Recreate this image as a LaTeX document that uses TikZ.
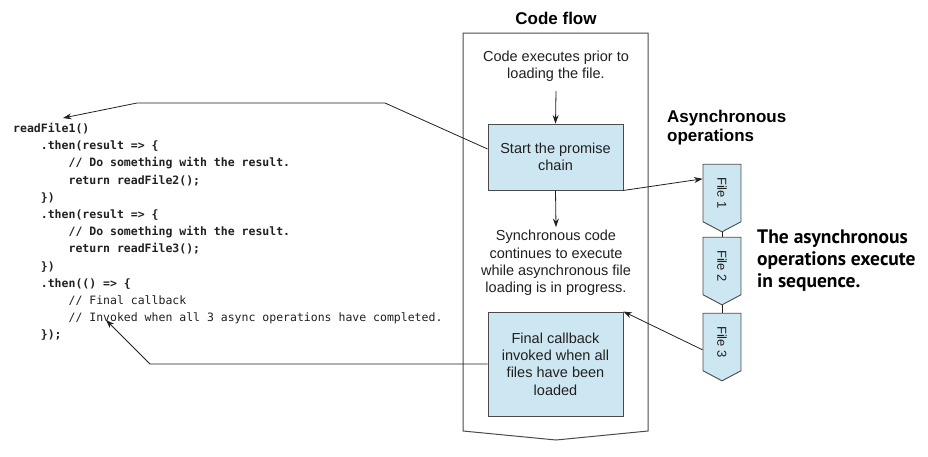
\documentclass[tikz,border=0pt]{standalone}
\usepackage{fontspec}
\setmainfont{Liberation Sans}
\newfontfamily\codefont{DejaVu Sans Mono}
\newfontfamily\calloutfont{PT Sans}
\usetikzlibrary{arrows.meta,shapes.symbols}
\definecolor{boxblue}{HTML}{CCE7F1}
\definecolor{txt}{HTML}{231F20}
\definecolor{frame}{HTML}{4A4A4A}
\newcommand{\ind}[1]{\hphantom{#1}}
\begin{document}
\begin{tikzpicture}[x=1pt,y=-1pt,
  bodytext/.style={font=\fontsize{14.5}{17.3}\selectfont, align=center, text=txt, inner sep=0pt},
  bluebox/.style={draw=frame, fill=boxblue, line width=0.9pt, minimum width=135pt, inner sep=0pt,
    font=\fontsize{14.5}{17.3}\selectfont, align=center, text=txt},
  filebox/.style={shape=signal, signal to=south, signal from=nowhere, draw=frame, fill=boxblue,
    line width=0.9pt, minimum width=38pt, minimum height=60pt, inner sep=0pt,
    signal pointer angle=124, font=\fontsize{13}{15}\selectfont, text=txt},
  conn/.style={line width=0.8pt, draw=txt},
  arr/.style={conn, -{Stealth[length=8.5pt,width=6pt]}},
  heading/.style={font=\fontsize{17}{19}\selectfont\bfseries, text=black, inner sep=0pt},
  codetext/.style={font=\codefont\fontsize{11.5}{17.2}\selectfont, align=left, text=txt, inner sep=0pt, anchor=north west}
]
\useasboundingbox (0,0) rectangle (928,456);

% title and outer frame
\node[heading] (title) at (556,18) {Code flow};
\draw[frame, line width=1pt] (463,33) -- (648,33) -- (648,431) -- (556,440) -- (463,431) -- cycle;

% flow contents
\node[bodytext] (pre) at (556,66.5) {Code executes prior to\\loading the file.};
\node[bluebox, minimum height=66pt] (start) at (555.5,157) {Start the promise\\chain};
\node[bodytext] (sync) at (556,263) {Synchronous code\\continues to execute\\while asynchronous file\\loading is in progress.};
\node[bluebox, minimum height=104pt] (final) at (555.5,364) {Final callback\\invoked when all\\files have been\\loaded};

\draw[arr] ([yshift=-9pt]pre.south) -- (start.north);
\draw[arr] (start.south) -- ([yshift=3pt]sync.north);

% asynchronous operations
\node[heading, anchor=west, align=left] (async) at (667,127.5) {Asynchronous\\operations};
\node[filebox] (f1) at (722,193) {\rotatebox{-90}{File 1}};
\node[filebox] (f2) at (722,266) {\rotatebox{-90}{File 2}};
\node[filebox] (f3) at (722,342) {\rotatebox{-90}{File 3}};
\draw[conn] (f1.south) -- (f2.north);
\draw[conn] (f2.south) -- (f3.north);

\node[anchor=west, align=left, inner sep=0pt, text=black,
  font=\calloutfont\fontsize{19.5}{22}\selectfont\bfseries] (note) at (757,261)
  {The asynchronous\\operations execute\\in sequence.};

% code
\node[codetext] (code) at (13,123) {\textbf{readFile1()}\\
\ind{xxxx}\textbf{.then(result => \{}\\
\ind{xxxxxxxx}\textbf{// Do something with the result.}\\
\ind{xxxxxxxx}\textbf{return readFile2();}\\
\ind{xxxx}\textbf{\})}\\
\ind{xxxx}\textbf{.then(result => \{}\\
\ind{xxxxxxxx}\textbf{// Do something with the result.}\\
\ind{xxxxxxxx}\textbf{return readFile3();}\\
\ind{xxxx}\textbf{\})}\\
\ind{xxxx}\textbf{.then(() => \{}\\
\ind{xxxxxxxx}// Final callback\\
\ind{xxxxxxxx}// Invoked when all 3 async operations have completed.\\
\ind{xxxx}\textbf{\});}};

% connectors
\coordinate (k1) at (385,103);
\coordinate (k2) at (137,103);
\coordinate (tip1) at (63,118);
\coordinate (k3) at (150,364);
\coordinate (tip2) at (106,320);
\draw[arr] ([yshift=8pt]start.west) -- (k1) -- (k2) -- (tip1);
\draw[arr] (final.west) -- (k3) -- (tip2);
\draw[arr] (start.south east) -- ([yshift=-15pt]f1.north west);
\draw[arr] ([yshift=-37pt]f3.north west) -- (final.north east);
\end{tikzpicture}
\end{document}
